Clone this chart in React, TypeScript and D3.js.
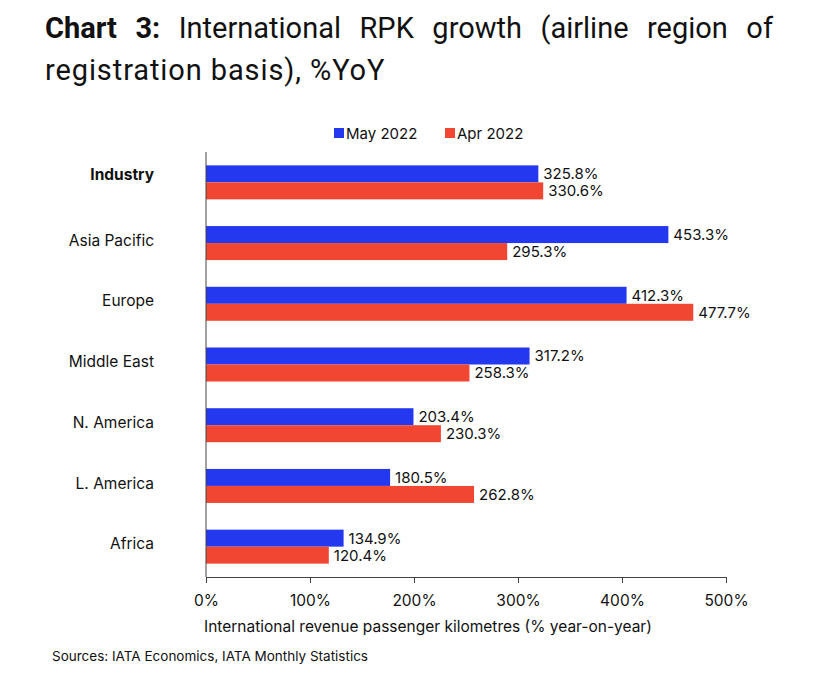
import React, { useRef, useEffect } from 'react';
import * as d3 from 'd3';

const categories = ['Industry', 'Asia Pacific', 'Europe', 'Middle East', 'N. America', 'L. America', 'Africa'];
const may2022 = [325.8, 453.3, 412.3, 317.2, 203.4, 180.5, 134.9];
const apr2022 = [330.6, 295.3, 477.7, 258.3, 230.3, 262.8, 120.4];
const seriesNames = ['May 2022', 'Apr 2022'];
const xTicks = [0, 100, 200, 300, 400, 500];

const width = 819;
const height = 683;
const BLUE = '#2438f0';
const RED = '#f04632';
const FONT = 'Inter, "Noto Sans", sans-serif';

const App: React.FC = () => {
  const svgRef = useRef<SVGSVGElement | null>(null);

  useEffect(() => {
    if (!svgRef.current) return;
    const svg = d3.select(svgRef.current);
    svg.selectAll('*').remove();

    const left = 206;
    const right = 726;
    const top = 152;
    const bottom = 577;

    const x = d3.scaleLinear().domain([0, 500]).range([left, right]);
    // the source draws its bars slightly short of the tick scale
    const xBar = d3.scaleLinear().domain([0, 500]).range([left, left + 510]);
    const y0 = d3.scaleBand().domain(categories).range([top, bottom]).paddingInner(0.44).paddingOuter(0.22);
    const y1 = d3.scaleBand().domain(seriesNames).range([0, y0.bandwidth()]);
    const color = d3.scaleOrdinal<string>().domain(seriesNames).range([BLUE, RED]);

    // title
    const title = svg.append('g').style('font-family', 'Roboto, "Liberation Sans", sans-serif')
      .style('font-size', '29px').attr('fill', '#111');
    const line1 = title.append('text').attr('x', 45).attr('y', 38);
    line1.append('tspan').attr('font-weight', 'bold').text('Chart 3:');
    line1.append('tspan').text(' International RPK growth (airline region of');
    const len = (line1.node() as SVGTextElement).getComputedTextLength();
    const gaps = 7;
    line1.attr('word-spacing', Math.max(0, (728 - len) / gaps));
    title.append('text').attr('x', 45).attr('y', 80).attr('letter-spacing', 0.9).text('registration basis), %YoY');

    // legend
    const legend = svg.append('g').style('font-family', FONT).style('font-size', '15px');
    const legendX = [334, 445];
    seriesNames.forEach((s, i) => {
      legend.append('rect').attr('x', legendX[i]).attr('y', 128).attr('width', 10).attr('height', 10).attr('fill', color(s));
      legend.append('text').attr('x', legendX[i] + 12).attr('y', 139).attr('fill', '#111').text(s);
    });

    // bars
    const groups = svg.append('g')
      .selectAll('g')
      .data(categories)
      .join('g')
      .attr('transform', d => `translate(0,${y0(d)})`);

    const rows = (i: number) => seriesNames.map((s, j) => ({ s, v: j === 0 ? may2022[i] : apr2022[i] }));

    groups.selectAll('rect')
      .data((d, i) => rows(i))
      .join('rect')
      .attr('x', xBar(0))
      .attr('y', d => y1(d.s)!)
      .attr('width', d => xBar(d.v) - xBar(0))
      .attr('height', y1.bandwidth())
      .attr('fill', d => color(d.s));

    groups.selectAll('text.val')
      .data((d, i) => rows(i))
      .join('text')
      .attr('class', 'val')
      .attr('x', d => xBar(d.v) + 5)
      .attr('y', d => y1(d.s)! + y1.bandwidth() / 2)
      .attr('dy', '0.36em')
      .style('font-family', FONT)
      .style('font-size', '15px')
      .attr('fill', '#111')
      .text(d => `${d.v.toFixed(1)}%`);

    // category labels
    svg.append('g')
      .selectAll('text')
      .data(categories)
      .join('text')
      .attr('x', 154)
      .attr('y', (d, i) => y0(d)! + y0.bandwidth() / 2 - (i === 0 ? 8 : 3))
      .attr('dy', '0.36em')
      .attr('text-anchor', 'end')
      .style('font-family', FONT)
      .style('font-size', '15.5px')
      .attr('font-weight', (d, i) => (i === 0 ? 'bold' : 'normal'))
      .attr('fill', '#111')
      .text(d => d);

    // axes
    svg.append('line').attr('x1', left).attr('x2', left).attr('y1', top).attr('y2', bottom)
      .attr('stroke', '#444').attr('stroke-width', 1);
    const xAxis = svg.append('g')
      .attr('transform', `translate(0,${bottom})`)
      .call(d3.axisBottom(x).tickValues(xTicks).tickSize(6).tickPadding(12).tickFormat(d => `${d}%`));
    xAxis.select('.domain').attr('stroke', '#444');
    xAxis.selectAll('.tick line').attr('stroke', '#444');
    xAxis.selectAll('text').style('font-family', FONT).style('font-size', '15.5px').attr('fill', '#111');

    svg.append('text')
      .attr('x', 204)
      .attr('y', 632)
      .style('font-family', FONT)
      .style('font-size', '15.5px')
      .attr('fill', '#111')
      .text('International revenue passenger kilometres (% year-on-year)');

    svg.append('text')
      .attr('x', 52)
      .attr('y', 661)
      .style('font-family', FONT)
      .style('font-size', '13.5px')
      .attr('fill', '#111')
      .text('Sources: IATA Economics, IATA Monthly Statistics');
  }, []);

  return (
    <svg
      ref={svgRef}
      width={width}
      height={height}
      style={{ position: 'absolute', left: 0, top: 0, background: '#fff' }}
    />
  );
};

export default App;
